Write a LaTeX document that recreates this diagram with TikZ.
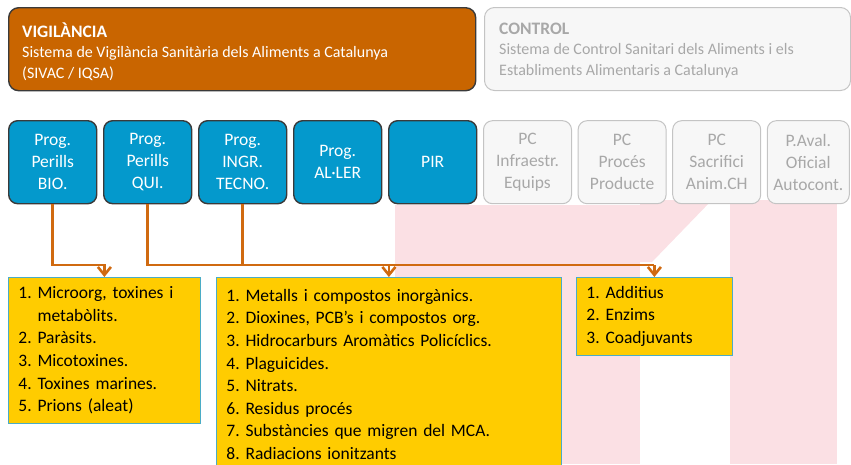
\documentclass[tikz,border=0pt]{standalone}
\usepackage{fontspec}
\setmainfont{Carlito}
\usetikzlibrary{positioning,arrows.meta}

\definecolor{vigtaronja}{RGB}{201,101,0}
\definecolor{filtaronja}{RGB}{208,106,16}
\definecolor{progblau}{RGB}{4,153,204}
\definecolor{progvora}{RGB}{58,58,58}
\definecolor{pcfons}{RGB}{247,247,247}
\definecolor{pcvora}{RGB}{196,196,196}
\definecolor{pcgris}{RGB}{168,168,168}
\definecolor{llistagroc}{RGB}{255,204,0}
\definecolor{llistavora}{RGB}{75,172,198}
\definecolor{marca}{RGB}{251,224,228}

\newcommand{\titolsist}[1]{{\fontsize{17.5}{20.5}\selectfont\textbf{#1}}}

\begin{document}
\begin{tikzpicture}[x=1pt,y=-1pt,node distance=5.6pt,
  sistema/.style={draw, line width=1.4pt, rounded corners=10pt, minimum height=83pt, anchor=north west},
  textsistema/.style={anchor=north west, inner sep=0pt, align=left, font=\fontsize{16}{20.5}\selectfont},
  prog/.style={draw=progvora, line width=1.4pt, rounded corners=9pt, fill=progblau, text=white, minimum width=88pt, minimum height=83pt, align=center, font=\fontsize{17.5}{22}\selectfont},
  pc/.style={prog, draw=pcvora, fill=pcfons, text=pcgris, line width=1pt},
  llista/.style={draw=llistavora, fill=llistagroc, line width=0.8pt, anchor=north west, inner xsep=10pt, align=left, font=\fontsize{17.5}{22.6}\selectfont},
  fil/.style={draw=filtaronja, line width=2.6pt},
  fletxa/.style={fil, -{Straight Barb[length=8pt,width=13pt]}}]
\useasboundingbox (0,0) rectangle (851,464);
\clip (0,0) rectangle (851,464);

% marca d'aigua del fons
\fill[marca] (395,205) rectangle (640,464);
\fill[marca] (730,200) rectangle (837,464);
\fill[marca] (640,200) -- (712,200) -- (652,262) -- (640,262) -- cycle;

% sistemes
\node (vig)[sistema, draw=progvora, fill=vigtaronja, minimum width=467pt] at (8,7) {};
\node (vigtxt)[textsistema, text=white] at (22,22.5)
  {\titolsist{VIGILÀNCIA}\\Sistema de Vigilància Sanitària dels Aliments a Catalunya\\(SIVAC / IQSA)};
\node (ctrl)[sistema, draw=pcvora, fill=pcfons, line width=1pt, minimum width=366pt] at (484,7) {};
\node (ctrltxt)[textsistema, text=pcgris] at (499,22.5)
  {\titolsist{CONTROL}\\Sistema de Control Sanitari dels Aliments i els\\Establiments Alimentaris a Catalunya};

% programes
\node (p1)[prog, anchor=north west] at (8,120) {Prog.\\Perills\\BIO.};
\node (p2)[prog] [right=of p1] {Prog.\\Perills\\QUI.};
\node (p3)[prog] [right=of p2] {Prog.\\INGR.\\TECNO.};
\node (p4)[prog] [right=of p3] {Prog.\\AL·LER};
\node (p5)[prog] [right=of p4] {PIR};
\node (p6)[pc] [right=of p5] {PC\\Infraestr.\\Equips};
\node (p7)[pc] [right=of p6] {PC\\Procés\\Producte};
\node (p8)[pc] [right=of p7] {PC\\Sacrifici\\Anim.CH};
\node (p9)[pc, minimum width=82pt] [right=of p8] {P.Aval.\\Oficial\\Autocont.};

% perills
\node (bio)[llista, minimum height=146pt, text width=172pt] at (8,277)
  {1.~Microorg, toxines i\\\hphantom{1.~}metabòlits.\\2.~Paràsits.\\3.~Micotoxines.\\4.~Toxines marines.\\5.~Prions (aleat)};
\node (qui)[llista, minimum height=194pt, text width=325pt] at (216,277)
  {1.~Metalls i compostos inorgànics.\\2.~Dioxines, PCB’s i compostos org.\\3.~Hidrocarburs Aromàtics Policíclics.\\4.~Plaguicides.\\5.~Nitrats.\\6.~Residus procés\\7.~Substàncies que migren del MCA.\\8.~Radiacions ionitzants};
\node (adi)[llista, minimum height=78pt, text width=136pt] at (576,277)
  {1.~Additius\\2.~Enzims\\3.~Coadjuvants};

\coordinate (bus) at (0,265);
\draw[fletxa] (p1.south) -- (p1.south |- bus) -| (bio.north);
\draw[fil] (p2.south) |- (adi.north |- bus);
\draw[fil] (p3.south) -- (p3.south |- bus);
\draw[fletxa] (qui.north |- bus) -- (qui.north);
\draw[fletxa] (adi.north |- bus) -- (adi.north);
\end{tikzpicture}
\end{document}
